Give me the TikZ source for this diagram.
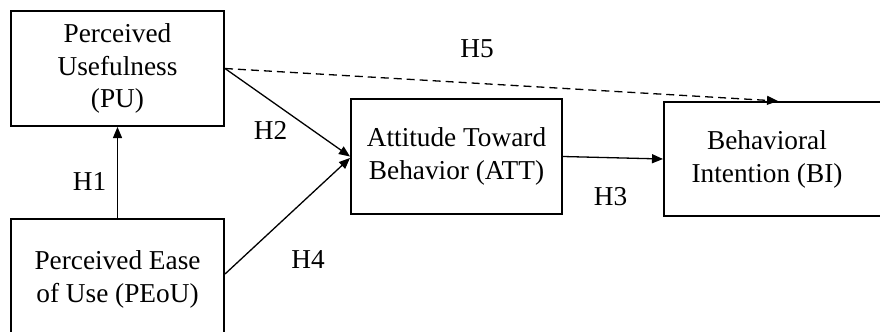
\documentclass[tikz,border=0pt]{standalone}
\usepackage{fontspec}
\setmainfont{Liberation Serif}
\usetikzlibrary{arrows.meta}
\begin{document}
\begin{tikzpicture}[x=1bp,y=-1bp,
  every node/.style={font=\fontsize{27.4}{33}\selectfont},
  boxnode/.style={draw,line width=2bp,align=center,inner sep=0pt},
  hlabel/.style={inner sep=0pt},
  link/.style={line width=1.3bp,-{Triangle[length=11bp,width=9bp]}},
  dashlink/.style={link,dash pattern=on 8bp off 5bp}]
\useasboundingbox (0,0) rectangle (880,331);
\clip (0,0) rectangle (880,331);
\node[boxnode,minimum width=213bp,minimum height=115bp] (PU) at (117.5,68.5) {Perceived\\Usefulness\\(PU)};
\node[boxnode,minimum width=213bp,minimum height=120bp] (PEoU) at (117.5,279) {Perceived Ease\\of Use (PEoU)};
\node[boxnode,minimum width=211bp,minimum height=115bp] (ATT) at (456.5,156.5) {Attitude Toward\\Behavior (ATT)};
\node[boxnode,minimum width=221bp,minimum height=114bp,
  label={[xshift=-7.5bp,align=center,inner sep=0pt]center:Behavioral\\Intention (BI)}] (BI) at (774.5,159) {};
\draw[link] (PEoU.north) -- (PU.south);
\draw[link] (PU.east) -- (ATT.west);
\draw[link] ([yshift=5bp]PEoU.east) -- ([yshift=-1.5bp]ATT.west);
\draw[link] (ATT.east) -- (BI.west);
\draw[dashlink] (PU.east) -- ([xshift=3.5bp]BI.north);
\node[hlabel] (h1) at (89.5,181.5) {H1};
\node[hlabel] (h2) at (270.5,130) {H2};
\node[hlabel] (h3) at (610.5,196.5) {H3};
\node[hlabel] (h4) at (308,260) {H4};
\node[hlabel] (h5) at (477,49) {H5};
\end{tikzpicture}
\end{document}
